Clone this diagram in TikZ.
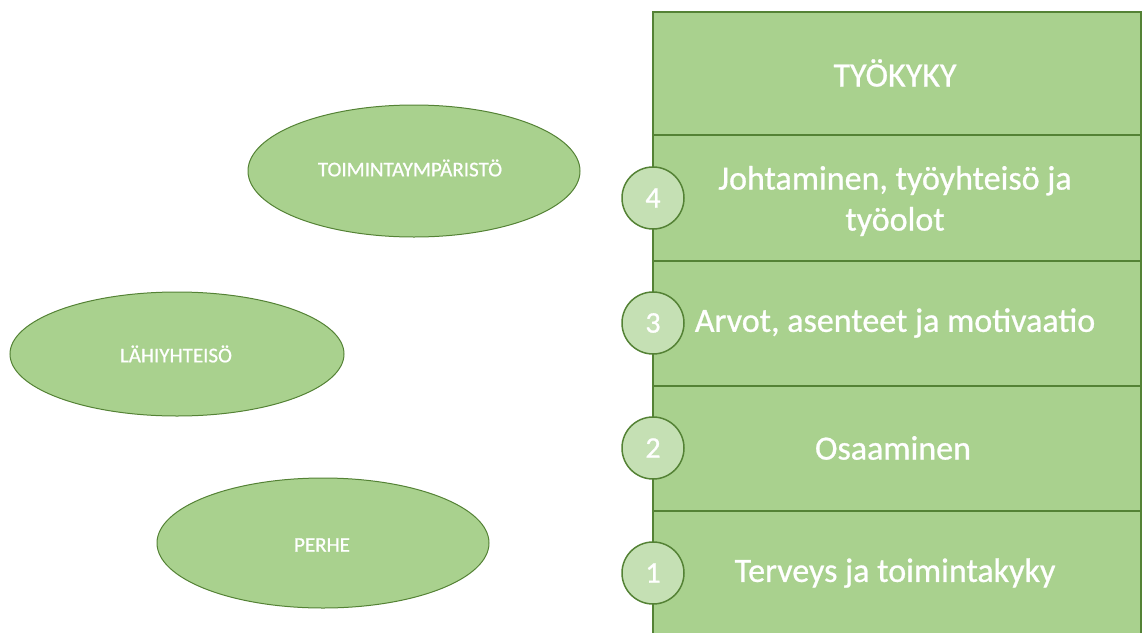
\documentclass[tikz,border=0pt]{standalone}
\usepackage{fontspec}
\setmainfont{Carlito}[FakeBold=0.8]
\newfontfamily\semib{Carlito}[FakeBold=0.8, AutoFakeBold=0.8]
\definecolor{boxfill}{HTML}{A9D18E}
\definecolor{boxline}{HTML}{548235}
\definecolor{circfill}{HTML}{C5E0B4}
\begin{document}
\begin{tikzpicture}[x=1pt,y=-1pt,
  row/.style={draw=boxline, fill=boxfill, line width=1.5pt},
  rowtext/.style={text=white, font=\semib\bfseries\fontsize{34}{41}\selectfont, align=center},
  num/.style={circle, draw=boxline, fill=circfill, line width=1.5pt, minimum size=62pt, inner sep=0pt, text=white, font=\semib\bfseries\fontsize{30}{34}\selectfont},
  ovaltext/.style={text=white, font=\semib\bfseries\fontsize{21}{26}\selectfont},
  oval/.style={draw=boxline, fill=boxfill, line width=1pt}
]
\useasboundingbox (0,0) rectangle (1143,632);
\begin{scope}
\clip (0,0) rectangle (1143,632);
\draw[row] (653,12) rectangle (1141,135);
\draw[row] (653,135) rectangle (1141,261);
\draw[row] (653,261) rectangle (1141,386);
\draw[row] (653,386) rectangle (1141,511);
\draw[row] (653,511) rectangle (1141,650);
\end{scope}
\node[rowtext] (t0) at (895,73) {TYÖKYKY};
\node[rowtext] (t4) at (895,201) {Johtaminen, työyhteisö ja\\työolot};
\node[rowtext] (t3) at (895,323) {Arvot, asenteet ja motivaatio};
\node[rowtext] (t2) at (893,448) {Osaaminen};
\node[rowtext] (t1) at (895,573) {Terveys ja toimintakyky};
\node[num] (n4) at (653,198) {4};
\node[num] (n3) at (653,323) {3};
\node[num] (n2) at (653,448) {2};
\node[num] (n1) at (653,573) {1};
\draw[oval] (414,171) ellipse [x radius=166, y radius=66];
\node[ovaltext] (e1) at (410,168) {TOIMINTAYMPÄRISTÖ};
\draw[oval] (177,354) ellipse [x radius=167, y radius=62];
\node[ovaltext] (e2) at (176,354) {LÄHIYHTEISÖ};
\draw[oval] (323,543) ellipse [x radius=166, y radius=65];
\node[ovaltext] (e3) at (322,545) {PERHE};
\end{tikzpicture}
\end{document}
